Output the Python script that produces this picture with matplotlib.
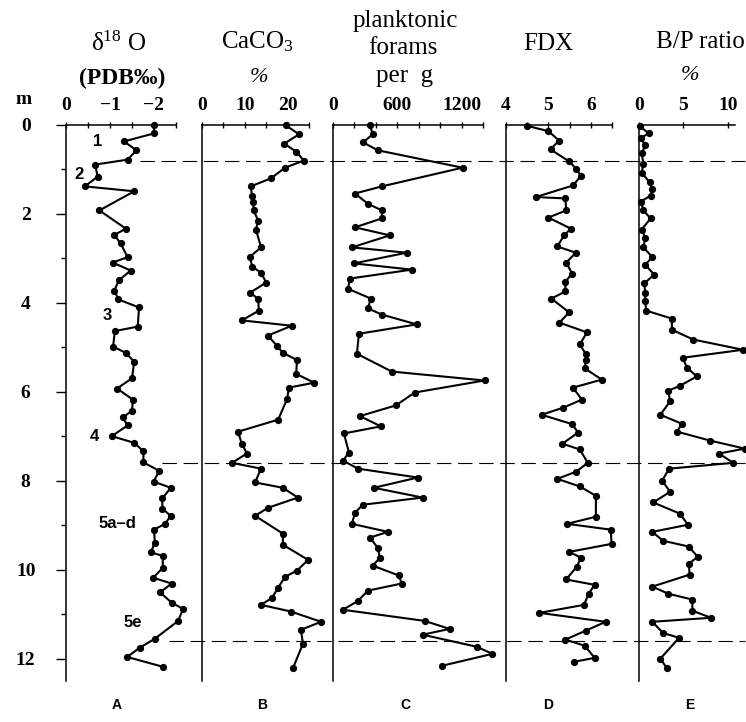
import matplotlib
matplotlib.use('Agg')
import matplotlib.pyplot as plt
from matplotlib.lines import Line2D
from matplotlib.ticker import MultipleLocator, FixedLocator
import numpy as np

plt.rcParams['font.family'] = ['Liberation Serif', 'DejaVu Serif']
plt.rcParams['mathtext.fontset'] = 'custom'
plt.rcParams['mathtext.rm'] = 'Liberation Serif'
plt.rcParams['mathtext.it'] = 'Liberation Serif:italic'
plt.rcParams['mathtext.bf'] = 'Liberation Serif:bold'

# ---- data: depth (m) and value for each record ----
d18o_depth = [0.02, 0.2, 0.38, 0.58, 0.79, 0.9, 1.17, 1.39, 1.5, 1.93, 2.34, 2.48, 2.67, 2.98,
              3.1, 3.28, 3.5, 3.73, 3.93, 4.11, 4.54, 4.64, 4.99, 5.13, 5.33, 5.7, 5.93, 6.18,
              6.43, 6.58, 6.76, 7.0, 7.15, 7.34, 7.59, 7.78, 8.02, 8.16, 8.4, 8.63, 8.79, 8.97,
              9.1, 9.39, 9.61, 9.69, 9.96, 10.18, 10.31, 10.51, 10.74, 10.88, 11.15, 11.55,
              11.75, 11.96, 12.18]
d18o = [-2.0, -2.0, -1.32, -1.6, -1.4, -0.66, -0.72, -0.43, -1.55, -0.76, -1.36, -1.1, -1.24,
        -1.4, -1.06, -1.47, -1.2, -1.1, -1.19, -1.66, -1.63, -1.11, -1.07, -1.36, -1.55, -1.5,
        -1.16, -1.52, -1.5, -1.29, -1.4, -1.04, -1.55, -1.76, -1.76, -2.12, -1.99, -2.38, -2.19,
        -2.19, -2.38, -2.25, -2.0, -2.02, -1.93, -2.2, -2.2, -1.98, -2.4, -2.14, -2.4, -2.66,
        -2.55, -2.02, -1.68, -1.39, -2.2]

caco3_depth = [0.02, 0.22, 0.43, 0.61, 0.81, 0.97, 1.21, 1.39, 1.6, 1.75, 1.93, 2.16, 2.36, 2.76,
               2.97, 3.19, 3.33, 3.55, 3.78, 3.91, 4.18, 4.4, 4.52, 4.74, 4.97, 5.13, 5.29, 5.6,
               5.8, 5.91, 6.16, 6.63, 6.9, 7.17, 7.39, 7.6, 7.73, 8.04, 8.16, 8.38, 8.61, 8.79,
               9.19, 9.44, 9.78, 10.02, 10.16, 10.4, 10.63, 10.79, 10.94, 11.17, 11.35, 11.66, 12.2]
caco3 = [19.6, 22.7, 19.2, 22.0, 23.8, 19.4, 16.1, 11.4, 11.7, 11.9, 12.1, 13.1, 12.6, 13.8,
         11.2, 11.7, 13.8, 15.0, 11.2, 13.1, 13.3, 9.3, 21.0, 15.4, 17.5, 18.9, 22.2, 22.0,
         26.2, 20.3, 19.9, 17.8, 8.4, 9.3, 10.5, 7.0, 13.8, 12.4, 18.9, 22.4, 15.4, 12.4,
         18.9, 18.9, 24.8, 22.2, 19.4, 17.8, 16.4, 13.8, 20.8, 27.8, 23.1, 23.6, 21.3]

forams_depth = [0.02, 0.22, 0.4, 0.58, 0.97, 1.39, 1.55, 1.78, 1.93, 2.11, 2.31, 2.49, 2.76, 2.88,
                3.12, 3.26, 3.46, 3.69, 3.91, 4.13, 4.27, 4.49, 4.7, 5.15, 5.55, 5.75, 6.02, 6.31,
                6.55, 6.78, 6.94, 7.37, 7.55, 7.73, 7.93, 8.16, 8.38, 8.54, 8.72, 8.97, 9.15,
                9.28, 9.51, 9.73, 9.91, 10.13, 10.31, 10.47, 10.7, 10.9, 11.15, 11.33, 11.46,
                11.73, 11.89, 12.16]
forams = [344, 372, 279, 419, 1209, 456, 205, 326, 456, 456, 205, 530, 177, 688,
          195, 735, 158, 140, 353, 326, 456, 781, 242, 223, 549, 1414, 763, 586,
          251, 447, 102, 149, 93, 233, 791, 381, 837, 279, 205, 177, 512,
          344, 419, 437, 372, 614, 642, 326, 233, 93, 856, 1088, 837,
          1340, 1488, 1014]

fdx_depth = [0.03, 0.15, 0.36, 0.56, 0.83, 0.99, 1.15, 1.37, 1.63, 1.66, 1.93, 2.09, 2.34, 2.49,
             2.74, 2.88, 3.1, 3.35, 3.53, 3.75, 3.91, 4.22, 4.45, 4.67, 4.94, 5.15, 5.28, 5.48,
             5.73, 5.91, 6.18, 6.36, 6.52, 6.73, 6.92, 7.17, 7.3, 7.6, 7.8, 7.96, 8.13, 8.34,
             8.81, 8.97, 9.1, 9.42, 9.6, 9.73, 9.93, 10.22, 10.34, 10.54, 10.79, 10.97, 11.17,
             11.37, 11.57, 11.71, 11.98, 12.07]
fdx = [4.5, 5.0, 5.25, 5.05, 5.49, 5.65, 5.77, 5.58, 4.7, 5.4, 5.42, 5.0, 5.53, 5.37,
       5.21, 5.65, 5.42, 5.56, 5.4, 5.4, 5.07, 5.49, 5.26, 5.91, 5.74, 5.88, 5.88, 5.86,
       6.26, 5.58, 5.79, 5.35, 4.84, 5.56, 5.7, 5.33, 5.74, 5.93, 5.65, 5.21, 5.74, 6.12,
       6.12, 5.44, 6.47, 6.49, 5.49, 5.77, 5.67, 5.42, 6.09, 5.95, 5.84, 4.79, 6.35,
       5.88, 5.4, 5.86, 6.09, 5.6]

bp_depth = [0.04, 0.2, 0.3, 0.47, 0.65, 0.88, 1.08, 1.3, 1.44, 1.6, 1.73, 1.93, 2.11, 2.36,
            2.54, 2.76, 2.98, 3.15, 3.37, 3.57, 3.78, 3.96, 4.18, 4.36, 4.61, 4.83, 5.06, 5.24,
            5.46, 5.66, 5.87, 5.98, 6.22, 6.52, 6.72, 6.9, 7.1, 7.28, 7.39, 7.6, 7.73, 8.0,
            8.25, 8.49, 8.74, 8.99, 9.15, 9.35, 9.48, 9.71, 9.87, 10.11, 10.38, 10.54, 10.67,
            10.92, 11.08, 11.17, 11.42, 11.53, 12.0, 12.2]
bp_ratio = [0.1, 1.1, 0.2, 0.7, 0.3, 0.5, 0.3, 1.2, 1.5, 1.3, 0.2, 0.5, 1.3, 0.3,
            0.7, 0.5, 1.5, 0.7, 1.7, 0.6, 0.7, 0.7, 0.8, 3.7, 3.7, 6.1, 11.7, 4.9,
            5.4, 6.5, 4.6, 3.3, 3.5, 2.4, 4.8, 4.3, 8.0, 11.9, 9.0, 10.6, 3.4, 2.6,
            3.5, 1.6, 4.6, 5.5, 1.5, 2.7, 5.6, 6.6, 5.6, 5.7, 1.5, 3.3, 6.0,
            6.0, 8.1, 1.5, 2.7, 4.5, 2.4, 3.1]

boundary_depths = [0.81, 7.6, 11.6]
stage_labels = ['1', '2', '3', '4', '5a–d', '5e']
stage_pos = [(-0.73, 0.39), (-0.3, 1.13), (-0.93, 4.3), (-0.64, 7.0), (-1.18, 8.96), (-1.52, 11.18)]

W, H = 746, 722
fig = plt.figure(figsize=(W / 100, H / 100), dpi=100)
fig.patch.set_facecolor('white')

TOP, BOT = 124.5, 681


def txt(x, y, s, **kw):
    kw.setdefault('ha', 'center')
    kw.setdefault('va', 'center')
    fig.text(x / W, 1 - y / H, s, **kw)


# (depth, values, left px, right px, xlim, major, minor, tick labels, letter, letter x)
panels = [
    (d18o_depth, d18o, 66, 176, (0, -2.5), [0, -1, -2], 0.5, ['0', '−1', '−2'], 'A', 117),
    (caco3_depth, caco3, 202, 309, (0, 25), [0, 10, 20], 5, ['0', '10', '20'], 'B', 262),
    (forams_depth, forams, 333, 483, (0, 1400), [0, 600, 1200], 200, ['0', '600', '1200'], 'C', 405),
    (fdx_depth, fdx, 506, 612, (4, 6.5), [4, 5, 6], 0.5, ['4', '5', '6'], 'D', 548),
    (bp_depth, bp_ratio, 639, 735, (0, 10.8), [0, 5, 10], 5, ['0', '5', '10'], 'E', 690),
]

axes = []
for i, (dep, val, x0, x1, xl, major, minor, labels, letter, lx) in enumerate(panels):
    ax = fig.add_axes([x0 / W, 1 - BOT / H, (x1 - x0) / W, (BOT - TOP) / H])
    ax.patch.set_alpha(0)
    ax.set_xlim(xl)
    ax.set_ylim(12.5, 0)
    ax.plot(val, dep, '-o', color='black', lw=1.5, ms=4.2, clip_on=False, zorder=3)
    for s in ['right', 'bottom']:
        ax.spines[s].set_visible(False)
    ax.spines['top'].set_linewidth(1.1)
    ax.spines['left'].set_linewidth(1.1)
    ax.spines['top'].set_bounds(min(xl), max(xl))
    ax.xaxis.tick_top()
    ax.xaxis.set_major_locator(FixedLocator(major))
    ax.xaxis.set_minor_locator(MultipleLocator(minor))
    ax.set_xticklabels(labels, fontsize=14, fontweight='bold')
    ax.tick_params(axis='x', which='both', direction='inout', length=5, width=1.0, pad=5)
    if i == 0:
        ax.yaxis.set_major_locator(MultipleLocator(2))
        ax.yaxis.set_minor_locator(MultipleLocator(1))
        ax.tick_params(axis='y', which='major', direction='out', length=7, width=1.0, pad=22)
        ax.tick_params(axis='y', which='minor', direction='out', length=3.5, width=1.0)
        for lbl in ax.get_yticklabels():
            lbl.set_fontweight('bold')
            lbl.set_fontsize(14)
            lbl.set_horizontalalignment('center')
    else:
        ax.set_yticks([])
    txt(lx, 705, letter, fontsize=10, fontweight='bold', family=['Liberation Sans', 'DejaVu Sans'])
    axes.append(ax)

axA = axes[0]
for s, (xv, dv) in zip(stage_labels, stage_pos):
    axA.text(xv, dv, s, ha='center', va='center', fontsize=12, fontweight='bold',
             family=['Liberation Sans', 'DejaVu Sans'])

# headers
txt(24, 100, 'm', fontsize=14, fontweight='bold')
txt(119, 44, 'δ$^{\\mathregular{18}}$ O', fontsize=18)
txt(122, 78, '(PDB‰)', fontsize=17, fontweight='bold')
txt(257, 42, 'CaCO$_3$', fontsize=18)
txt(259, 78, '%', fontsize=16, style='italic')
txt(405, 21, 'planktonic', fontsize=18)
txt(403, 48, 'forams', fontsize=18)
txt(405, 76, 'per  g', fontsize=18)
txt(548, 44, 'FDX', fontsize=18)
txt(700, 42, 'B/P ratio', fontsize=18)
txt(690, 76, '%', fontsize=16, style='italic')

# stage boundaries: dashed lines from the oxygen-isotope curve to the right edge
fig.canvas.draw()
for d in boundary_depths:
    xv = np.interp(d, d18o_depth, d18o)
    xs, ys = axA.transData.transform((xv, d))
    fig.add_artist(Line2D([(xs + 18) / W, 745 / W], [ys / H, ys / H], transform=fig.transFigure,
                          color='black', lw=0.8, dashes=(13, 6), zorder=1))

fig.savefig('out.png', dpi=100, facecolor='white')
